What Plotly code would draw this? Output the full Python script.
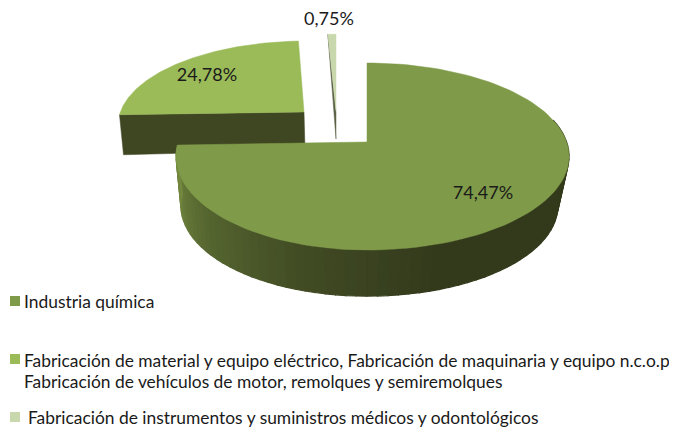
import math
import plotly.graph_objects as go

# ---- data ----
categories = [
    "Industria química",
    "Fabricación de material y equipo eléctrico, Fabricación de maquinaria y equipo n.c.o.p<br>Fabricación de vehículos de motor, remolques y semiremolques",
    "Fabricación de instrumentos y suministros médicos y odontológicos",
]
values = [74.47, 24.78, 0.75]
value_labels = ["74,47%", "24,78%", "0,75%"]
face_colors = ["#7f9a48", "#9bbb59", "#c9d8ac"]
side_colors = ["#333a1c", "#3f4622", "#5b6144"]

# ---- geometry of the 3D projection (pixels) ----
P = 0.155
W, H = 677, 427
PAGE_MARGIN = 8  # the page body offsets the figure


def rim(theta, cx, cy, rx, ry, left=1.0):
    s, c = math.sin(theta), math.cos(theta)
    d = 1 + P * c
    k = left if s < 0 else 1.0
    return cx + k * rx * s / d, cy - ry * c / d


def arc(a0, a1, cx, cy, rx, ry, left=1.0, n=120):
    return [rim(a0 + (a1 - a0) * i / n, cx, cy, rx, ry, left) for i in range(n + 1)]


def poly(fig, pts, color, width=0.5):
    fig.add_trace(go.Scatter(
        x=[p[0] for p in pts] + [pts[0][0]], y=[p[1] for p in pts] + [pts[0][1]],
        mode="lines", fill="toself", fillcolor=color,
        line=dict(color=color, width=width), hoverinfo="skip", showlegend=False))


def mix(a, b, t):
    ca = [int(a[i:i + 2], 16) for i in (1, 3, 5)]
    cb = [int(b[i:i + 2], 16) for i in (1, 3, 5)]
    return "#%02x%02x%02x" % tuple(round(x + (y - x) * t) for x, y in zip(ca, cb))


fig = go.Figure()
total = sum(values)
a1 = values[0] / total * 2 * math.pi
a2 = a1 + values[1] / total * 2 * math.pi
a3 = 2 * math.pi

# slice 2: side wall and face
s2 = dict(cx=306, cy=112, rx=199.6, ry=82, left=0.93)
corner = rim(a1, **s2)
poly(fig, [corner, (304, 112), (305, 150), (corner[0] + 4, corner[1] + 40)], side_colors[1])
poly(fig, [(304, 112)] + arc(a1, a2, **s2), face_colors[1])

# slice 3: side wall and face
s3 = dict(cx=336, cy=113, rx=199.6, ry=91, left=1.0)
edge = rim(a2, **s3)
poly(fig, [edge, (336, 113), (336, 139), (edge[0] + 2, edge[1] + 30)], side_colors[2])
poly(fig, [(336, 110)] + arc(a2, a3, **s3), face_colors[2])

# slice 1: side wall as shaded facets, then face
s1 = dict(cx=367, cy=142, rx=199.6, ry=91.25, left=0.945)
b1 = dict(cx=367, cy=192, rx=188.5, ry=88, left=0.975)
stops = [(0.0, "#333a1c"), (0.45, "#333a1c"), (0.62, "#404a23"), (0.8, "#55652f"),
         (0.93, "#6b7f3c"), (1.0, "#75893f")]


def shade(t):
    for (t0, c0), (t1, c1) in zip(stops, stops[1:]):
        if t <= t1:
            return mix(c0, c1, (t - t0) / (t1 - t0))
    return stops[-1][1]


n = 70
a_start = math.pi * 0.42
for i in range(n):
    t0 = a_start + (a1 - a_start) * i / n
    t1 = a_start + (a1 - a_start) * (i + 1) / n
    poly(fig, arc(t0, t1, n=3, **s1) + arc(t1, t0, n=3, **b1), shade((i + 0.5) / n), width=1.2)
poly(fig, [(367, 142)] + arc(0, a1, **s1), face_colors[0])

# value labels
label_pos = [(483, 194), (207, 76), (329, 20)]
fig.add_trace(go.Scatter(
    x=[p[0] for p in label_pos], y=[p[1] for p in label_pos], mode="text",
    text=value_labels, textfont=dict(family="Lato", size=18, color="#1a1a1a"),
    cliponaxis=False, hoverinfo="skip", showlegend=False))

# legend
fig.add_trace(go.Scatter(
    x=[15, 15, 15], y=[301, 359, 417], mode="markers",
    marker=dict(symbol="square", size=10, color=face_colors),
    cliponaxis=False, hoverinfo="skip", showlegend=False))
lines2 = categories[1].split("<br>")
legend_anns = [(22, 301, categories[0]), (22, 360, lines2[0]), (22, 381, lines2[1]), (26, 417, categories[2])]
for x, y, t in legend_anns:
    fig.add_annotation(x=x, y=y, xref="x", yref="y", text=t, showarrow=False, xanchor="left",
                       yanchor="middle", align="left",
                       font=dict(family="Lato", size=17.4, color="#1a1a1a"))

fig.update_layout(
    width=W - PAGE_MARGIN, height=H - PAGE_MARGIN, margin=dict(l=0, r=0, t=0, b=0), autosize=False,
    paper_bgcolor="white", plot_bgcolor="white", showlegend=False,
    xaxis=dict(range=[PAGE_MARGIN, W], visible=False, fixedrange=True),
    yaxis=dict(range=[H, PAGE_MARGIN], visible=False, fixedrange=True),
)
fig.write_html("out.html", config={"displayModeBar": False})
